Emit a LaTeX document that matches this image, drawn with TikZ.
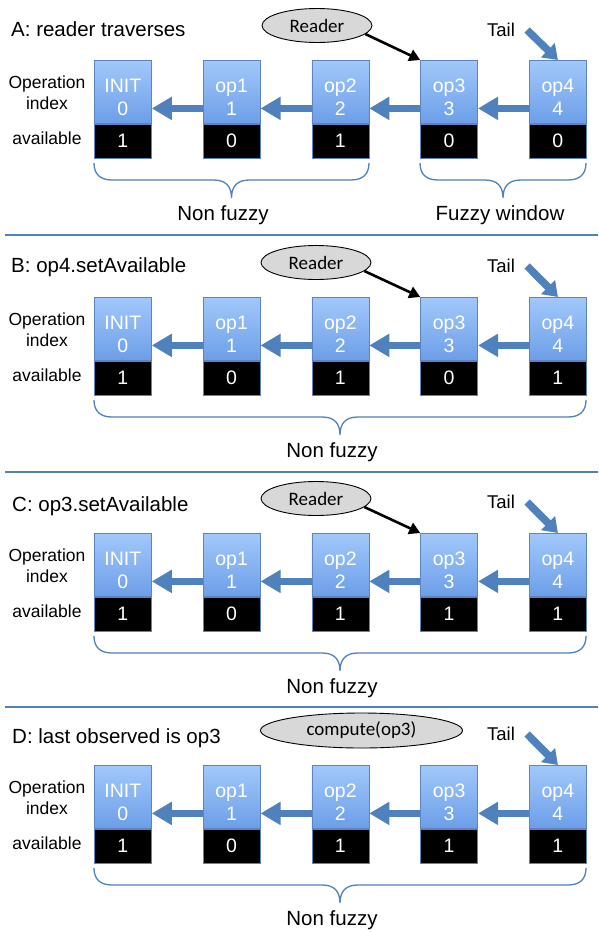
\documentclass[tikz,border=0pt]{standalone}
\usepackage{fontspec}
\setmainfont{Liberation Sans}
\newfontfamily\ellfont{Carlito}
\usetikzlibrary{arrows.meta,shapes.geometric}
\definecolor{boxtop}{RGB}{162,200,250}
\definecolor{boxbot}{RGB}{108,158,232}
\definecolor{boxline}{RGB}{92,132,192}
\definecolor{linkblue}{RGB}{79,129,189}
\definecolor{ellfill}{RGB}{216,216,216}
\newcommand{\myfs}[1]{\fontsize{#1}{#1}\selectfont}
\newcommand{\drawchain}[3]{%
  \foreach \i/\lab/\v in {#3} {
    \node[opbox, anchor=north west] (#1\i) at ({94+108.75*\i},#2) {};
    \node[boxtext] (#1t\i) at ([yshift=-5pt]#1\i.center) {\lab\\\i};
    \node[availbox, anchor=north] (#1a\i) at (#1\i.south) {\v};
  }
  \foreach \i/\j in {1/0,2/1,3/2,4/3} {
    \draw[link] ([yshift=-16.5pt]#1\i.west) -- ([yshift=-16.5pt]#1\j.east);
  }
  \node[sidelabel] (#1op) at (47,#2+32.5) {Operation\\index};
  \node[sidelabel] (#1av) at (47,#2+78) {available};
}
\newcommand{\curlybrace}[3]{%
  \draw[bracestyle] (#1,#3) .. controls (#1,#3+11) and (#1+6,#3+17) .. (#1+18,#3+17)
    -- ({(#1+#2)/2-18},#3+17) .. controls ({(#1+#2)/2-6},#3+17) and ({(#1+#2)/2},#3+23) .. ({(#1+#2)/2},#3+35)
    .. controls ({(#1+#2)/2},#3+23) and ({(#1+#2)/2+6},#3+17) .. ({(#1+#2)/2+18},#3+17)
    -- (#2-18,#3+17) .. controls (#2-6,#3+17) and (#2,#3+11) .. (#2,#3);
}
\begin{document}
\begin{tikzpicture}[x=1pt,y=-1pt,
  opbox/.style={draw=boxline, line width=0.8pt, top color=boxtop, bottom color=boxbot,
    minimum width=57pt, minimum height=63pt, inner sep=0pt},
  boxtext/.style={text=white, font=\fontsize{19.5}{23}\selectfont, align=center, inner sep=0pt},
  availbox/.style={draw=boxline, line width=0.8pt, fill=black, minimum width=57pt,
    minimum height=34pt, inner sep=0pt, text=white, font=\myfs{19.5}},
  link/.style={linkblue, line width=7pt, -{Triangle[length=20pt,width=22pt]}},
  sidelabel/.style={font=\fontsize{17.5}{21}\selectfont, align=center, inner sep=0pt},
  titletext/.style={font=\myfs{20.5}, anchor=west, inner sep=0pt},
  bigtext/.style={font=\myfs{20.5}, inner sep=0pt},
  tailtext/.style={font=\myfs{18.5}, inner sep=0pt},
  tailarrow/.style={linkblue, line width=7.5pt, -{Triangle[length=14pt,width=19pt]}},
  readerell/.style={ellipse, draw=black, fill=ellfill, line width=0.9pt,
    minimum width=110pt, minimum height=34pt, inner sep=0pt, font=\ellfont\myfs{19}},
  readarrow/.style={black, line width=2.6pt, -{Triangle[length=11pt,width=12pt]}},
  sepline/.style={linkblue, line width=1.5pt},
  bracestyle/.style={linkblue, line width=1.3pt}
]
\useasboundingbox (0,0) rectangle (598,932);
\fill[white] (0,0) rectangle (598,932);

% ---------- Panel A ----------
\node[titletext] (Atitle) at (11,29) {A: reader traverses};
\drawchain{A}{60}{0/INIT/1,1/op1/0,2/op2/1,3/op3/0,4/op4/0}
\node[readerell] (Ar) at (317,25.5) {Reader};
\draw[readarrow] (Ar.-10) -- (A3.north west);
\node[tailtext] (At) at (501,30) {Tail};
\draw[tailarrow] ([xshift=12pt]At.east) -- (A4.north);
\curlybrace{94}{369}{163}
\curlybrace{420}{586}{163}
\node[bigtext] (Anf) at (223,215) {Non fuzzy};
\node[bigtext] (Afw) at (500,215) {Fuzzy window};
\draw[sepline] (5,235) -- (598,235);

% ---------- Panel B ----------
\node[titletext] (Btitle) at (11,267) {B: op4.setAvailable};
\drawchain{B}{297}{0/INIT/1,1/op1/0,2/op2/1,3/op3/0,4/op4/1}
\node[readerell] (Br) at (316,262.5) {Reader};
\draw[readarrow] (Br.-10) -- (B3.north west);
\node[tailtext] (Bt) at (501,266) {Tail};
\draw[tailarrow] ([xshift=12pt]Bt.east) -- (B4.north);
\curlybrace{94}{586}{400}
\node[bigtext] (Bnf) at (332,452) {Non fuzzy};
\draw[sepline] (5,472) -- (598,472);

% ---------- Panel C ----------
\node[titletext] (Ctitle) at (12,506) {C: op3.setAvailable};
\drawchain{C}{533}{0/INIT/1,1/op1/0,2/op2/1,3/op3/1,4/op4/1}
\node[readerell] (Cr) at (316,498.5) {Reader};
\draw[readarrow] (Cr.-10) -- (C3.north west);
\node[tailtext] (Ct) at (501,502) {Tail};
\draw[tailarrow] ([xshift=12pt]Ct.east) -- (C4.north);
\curlybrace{94}{586}{636}
\node[bigtext] (Cnf) at (332,688) {Non fuzzy};
\draw[sepline] (5,707) -- (598,707);

% ---------- Panel D ----------
\node[titletext] (Dtitle) at (12,738) {D: last observed is op3};
\drawchain{D}{765}{0/INIT/1,1/op1/0,2/op2/1,3/op3/1,4/op4/1}
\node[readerell, minimum width=202pt, minimum height=35pt] (Dc) at (361.5,730.5) {compute(op3)};
\node[tailtext] (Dt) at (501,734) {Tail};
\draw[tailarrow] ([xshift=12pt]Dt.east) -- (D4.north);
\curlybrace{94}{586}{868}
\node[bigtext] (Dnf) at (332,920) {Non fuzzy};
\end{tikzpicture}
\end{document}
